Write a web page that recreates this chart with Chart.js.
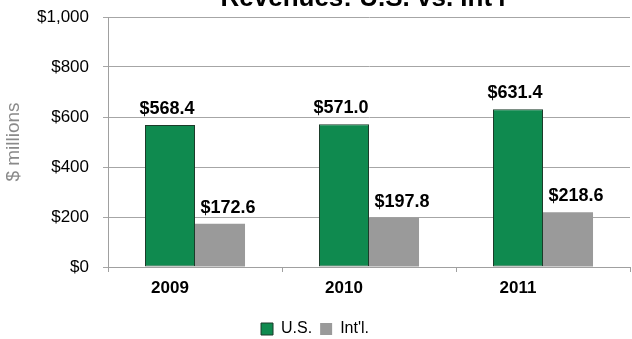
<!DOCTYPE html>
<html>
<head>
<meta charset="utf-8">
<script src="https://cdn.jsdelivr.net/npm/chart.js@4/dist/chart.umd.min.js"></script>
<style>
  html, body { margin: 0; padding: 0; background: #fff; }
  #wrap { width: 632px; height: 339px; }
</style>
</head>
<body>
<div id="wrap"><canvas id="revenues"></canvas></div>
<script>
// Revenue by year, $ millions
const years = ["2009", "2010", "2011"];
const usRevenue = [568.4, 571.0, 631.4];
const intlRevenue = [172.6, 197.8, 218.6];

const FONT = "'Liberation Sans', Arial, sans-serif";
Chart.defaults.font.family = FONT;
Chart.defaults.color = "#000";

// Title sits partly above the top of the canvas, so draw it by hand
const clippedTitle = {
  id: "clippedTitle",
  afterDraw(chart, args, opts) {
    const ctx = chart.ctx;
    const { left, right } = chart.chartArea;
    ctx.save();
    ctx.font = "bold 26px " + FONT;
    ctx.fillStyle = "#000";
    ctx.textAlign = "center";
    ctx.textBaseline = "alphabetic";
    ctx.fillText(opts.text, (left + right) / 2 - 6, opts.baseline);
    ctx.restore();
  },
};

// Dollar value printed above each bar
const barValues = {
  id: "barValues",
  afterDatasetsDraw(chart, args, opts) {
    const ctx = chart.ctx;
    ctx.save();
    ctx.font = "bold 18px " + FONT;
    ctx.fillStyle = "#000";
    ctx.textAlign = "center";
    ctx.textBaseline = "alphabetic";
    chart.data.datasets.forEach((ds, i) => {
      const shift = opts.shift[i] || 0;
      chart.getDatasetMeta(i).data.forEach((bar, j) => {
        ctx.fillText("$" + ds.data[j].toFixed(1), bar.x + shift, bar.y - 11);
      });
    });
    ctx.restore();
  },
};

new Chart(document.getElementById("revenues"), {
  type: "bar",
  data: {
    labels: years,
    datasets: [
      {
        label: "U.S.",
        data: usRevenue,
        backgroundColor: "#0f8a4f",
        borderColor: "#1c3b2a",
        borderWidth: 1,
        borderSkipped: false,
      },
      {
        label: "Int'l.",
        data: intlRevenue,
        backgroundColor: "#9a9a9a",
        borderWidth: 0,
      },
    ],
  },
  options: {
    responsive: true,
    maintainAspectRatio: false,
    animation: false,
    events: [],
    datasets: {
      bar: { barPercentage: 1, categoryPercentage: 0.575 },
    },
    layout: { padding: { top: 17, right: 2, left: 0, bottom: -8 } },
    scales: {
      x: {
        grid: {
          drawOnChartArea: false,
          drawTicks: true,
          tickLength: 5,
          color: "#a0a0a0",
        },
        border: { color: "#a0a0a0", width: 1 },
        ticks: {
          font: { size: 17, weight: "bold" },
          color: "#000",
          padding: 6,
          labelOffset: -25,
        },
        afterFit(scale) {
          scale.height = 46;
        },
      },
      y: {
        min: 0,
        max: 1000,
        ticks: {
          stepSize: 200,
          font: { size: 17 },
          color: "#000",
          padding: 14,
          callback: (v) => "$" + v.toLocaleString("en-US"),
        },
        grid: { color: "#a6a6a6", lineWidth: 1, tickLength: 5 },
        border: { color: "#a0a0a0", width: 1 },
        title: {
          display: true,
          text: "$ millions",
          color: "#8a8a8a",
          font: { size: 19 },
          padding: { top: 2, bottom: 0 },
        },
        afterFit(scale) {
          scale.width = 108;
          // let the layout padding alone decide the top of the plot
          scale.paddingTop = 0;
          scale.paddingBottom = 0;
        },
      },
    },
    plugins: {
      legend: {
        position: "bottom",
        labels: {
          boxWidth: 12,
          boxHeight: 12,
          padding: 8,
          font: { size: 16 },
          color: "#000",
        },
      },
      tooltip: { enabled: false },
      clippedTitle: { text: "Revenues: U.S. vs. Int'l", baseline: 6 },
      barValues: { shift: [-3, 8] },
    },
  },
  plugins: [clippedTitle, barValues],
});
</script>
</body>
</html>
